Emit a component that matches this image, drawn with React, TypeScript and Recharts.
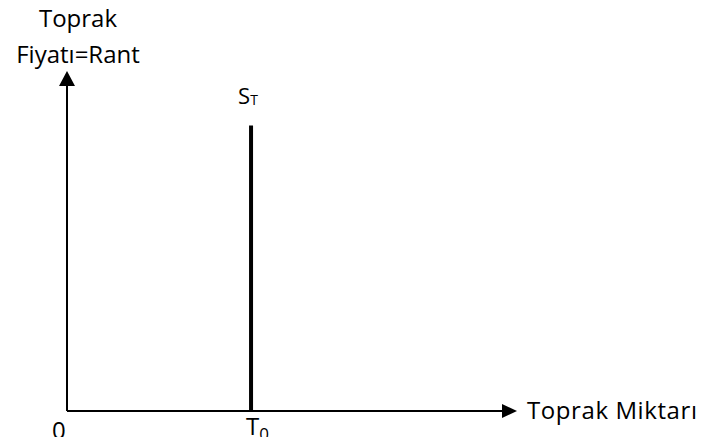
import React from "react";
import { LineChart, Line, XAxis, YAxis, ReferenceLine, ReferenceDot } from "recharts";

// ─── Data ────────────────────────────────────────────────────────────────────

const AXIS_MAX = 100;
const T0 = 40.9; // fixed land supply
const SUPPLY_TOP = 84;

const supplyQty = [T0, T0];
const supplyPrice = [0, SUPPLY_TOP];
const supplyData = supplyQty.map((q, i) => ({ q, p: supplyPrice[i] }));

const yTitle = ["Toprak", "Fiyatı=Rant"];
const xTitle = "Toprak Miktarı";

// ─── Style ───────────────────────────────────────────────────────────────────

const INK = "#000";
const FONT = "'Open Sans', sans-serif";
const FS = 24;

const W = 701;
const H = 446;

const XArrow = ({ cx, cy }: any) => (
  <g>
    <polygon points={`${cx},${cy} ${cx - 15},${cy - 7} ${cx - 15},${cy + 7}`} fill={INK} />
    <text x={cx + 10} y={cy + 8} fontFamily={FONT} fontSize={FS} fill={INK} textLength={170}>
      {xTitle}
    </text>
  </g>
);

const YArrow = ({ cx, cy }: any) => (
  <g>
    <polygon points={`${cx},${cy} ${cx - 8},${cy + 15} ${cx + 8},${cy + 15}`} fill={INK} />
    <text x={cx + 11} y={cy - 44} textAnchor="middle" fontFamily={FONT} fontSize={FS} fill={INK}>
      {yTitle[0]}
    </text>
    <text x={cx + 11} y={cy - 8} textAnchor="middle" fontFamily={FONT} fontSize={FS} fill={INK}>
      {yTitle[1]}
    </text>
  </g>
);

const OriginLabel = ({ cx, cy }: any) => (
  <text x={cx - 15} y={cy + 28} fontFamily={FONT} fontSize={FS} fill={INK}>
    0
  </text>
);

const T0Label = ({ cx, cy }: any) => (
  <text x={cx - 5} y={cy + 24} fontFamily={FONT} fontSize={FS} fill={INK}>
    T<tspan fontSize={17} dy={5}>0</tspan>
  </text>
);

const STLabel = ({ cx, cy }: any) => (
  <text x={cx - 13} y={cy - 21} fontFamily={FONT} fontSize={22} fill={INK}>
    S<tspan fontSize={14} dy={1}>T</tspan>
  </text>
);

export default function App() {
  return (
    <div style={{ position: "absolute", left: 0, top: 0, width: W, height: 437, overflow: "hidden", background: "#fff" }}>
      <LineChart width={W} height={H} margin={{ top: 71, right: 184, bottom: 35, left: 67 }}>
        <XAxis type="number" dataKey="q" domain={[0, AXIS_MAX]} hide />
        <YAxis type="number" dataKey="p" domain={[0, AXIS_MAX]} hide />

        <ReferenceLine
          segment={[{ x: 0, y: 0 }, { x: 97, y: 0 }]}
          stroke={INK}
          strokeWidth={2}
          ifOverflow="visible"
        />
        <ReferenceLine
          segment={[{ x: 0, y: 0 }, { x: 0, y: 96 }]}
          stroke={INK}
          strokeWidth={2}
          ifOverflow="visible"
        />

        <Line
          data={supplyData}
          dataKey="p"
          stroke={INK}
          strokeWidth={4}
          dot={false}
          activeDot={false}
          isAnimationActive={false}
        />

        <ReferenceDot x={AXIS_MAX} y={0} ifOverflow="visible" shape={XArrow} />
        <ReferenceDot x={0} y={AXIS_MAX} ifOverflow="visible" shape={YArrow} />
        <ReferenceDot x={0} y={0} ifOverflow="visible" shape={OriginLabel} />
        <ReferenceDot x={T0} y={0} ifOverflow="visible" shape={T0Label} />
        <ReferenceDot x={T0} y={SUPPLY_TOP} ifOverflow="visible" shape={STLabel} />
      </LineChart>
    </div>
  );
}
